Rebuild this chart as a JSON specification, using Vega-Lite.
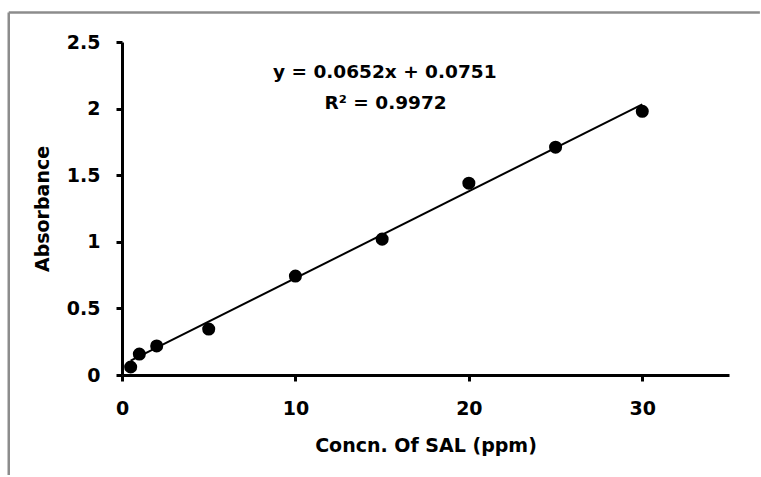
{
  "$schema": "https://vega.github.io/schema/vega-lite/v6.json",
  "autosize": "none",
  "width": 607,
  "height": 333,
  "padding": {"left": 122, "top": 42, "right": 32, "bottom": 102},
  "background": "white",
  "config": {
    "view": {"stroke": null},
    "font": "DejaVu Sans",
    "axis": {
      "domainColor": "black",
      "domainWidth": 3,
      "tickColor": "black",
      "tickWidth": 3,
      "tickSize": 6,
      "grid": false,
      "labelFlush": false,
      "labelFont": "DejaVu Sans",
      "labelFontWeight": "bold",
      "labelFontSize": 19,
      "labelColor": "black",
      "titleFont": "DejaVu Sans",
      "titleFontWeight": "bold",
      "titleFontSize": 19,
      "titleColor": "black"
    }
  },
  "datasets": {
    "samples": [
      {"conc": 0.5, "absorbance": 0.06},
      {"conc": 1, "absorbance": 0.157},
      {"conc": 2, "absorbance": 0.218},
      {"conc": 5, "absorbance": 0.345},
      {"conc": 10, "absorbance": 0.743},
      {"conc": 15, "absorbance": 1.02},
      {"conc": 20, "absorbance": 1.44},
      {"conc": 25, "absorbance": 1.71},
      {"conc": 30, "absorbance": 1.98}
    ],
    "trend": [
      {"conc": 0.5, "absorbance": 0.1077},
      {"conc": 30, "absorbance": 2.0311}
    ],
    "equation": [
      {"label": "y = 0.0652x + 0.0751", "conc": 15.15, "absorbance": 2.275},
      {"label": "R² = 0.9972", "conc": 15.2, "absorbance": 2.042}
    ]
  },
  "layer": [
    {
      "data": {"values": [{}]},
      "mark": {"type": "rule", "color": "#8c8c8c", "strokeWidth": 2.5, "clip": false},
      "encoding": {
        "x": {"datum": -6.53, "type": "quantitative"},
        "x2": {"datum": 36.78},
        "y": {"datum": 2.721, "type": "quantitative"}
      }
    },
    {
      "data": {"values": [{}]},
      "mark": {"type": "rule", "color": "#8c8c8c", "strokeWidth": 2.5, "clip": false},
      "encoding": {
        "x": {"datum": -6.53, "type": "quantitative"},
        "y": {"datum": 2.721, "type": "quantitative"},
        "y2": {"datum": -0.75}
      }
    },
    {
      "data": {"name": "trend"},
      "mark": {"type": "line", "color": "black", "strokeWidth": 2},
      "encoding": {
        "x": {"field": "conc", "type": "quantitative"},
        "y": {"field": "absorbance", "type": "quantitative"}
      }
    },
    {
      "data": {"name": "samples"},
      "mark": {"type": "point", "filled": true, "color": "black", "opacity": 1, "size": 170, "shape": "circle"},
      "encoding": {
        "x": {
          "field": "conc",
          "type": "quantitative",
          "scale": {"domain": [0, 35], "nice": false, "zero": false},
          "axis": {
            "title": "Concn. Of SAL (ppm)",
            "values": [0, 10, 20, 30],
            "labelPadding": 18,
            "titlePadding": 18
          }
        },
        "y": {
          "field": "absorbance",
          "type": "quantitative",
          "scale": {"domain": [0, 2.5], "nice": false, "zero": false},
          "axis": {
            "title": "Absorbance",
            "values": [0, 0.5, 1, 1.5, 2, 2.5],
            "format": "~g",
            "labelPadding": 16,
            "titlePadding": 14
          }
        }
      }
    },
    {
      "data": {"name": "equation"},
      "mark": {"type": "text", "font": "DejaVu Sans", "fontWeight": "bold", "fontSize": 18.5, "color": "black", "align": "center", "baseline": "middle"},
      "encoding": {
        "x": {"field": "conc", "type": "quantitative"},
        "y": {"field": "absorbance", "type": "quantitative"},
        "text": {"field": "label"}
      }
    }
  ]
}
